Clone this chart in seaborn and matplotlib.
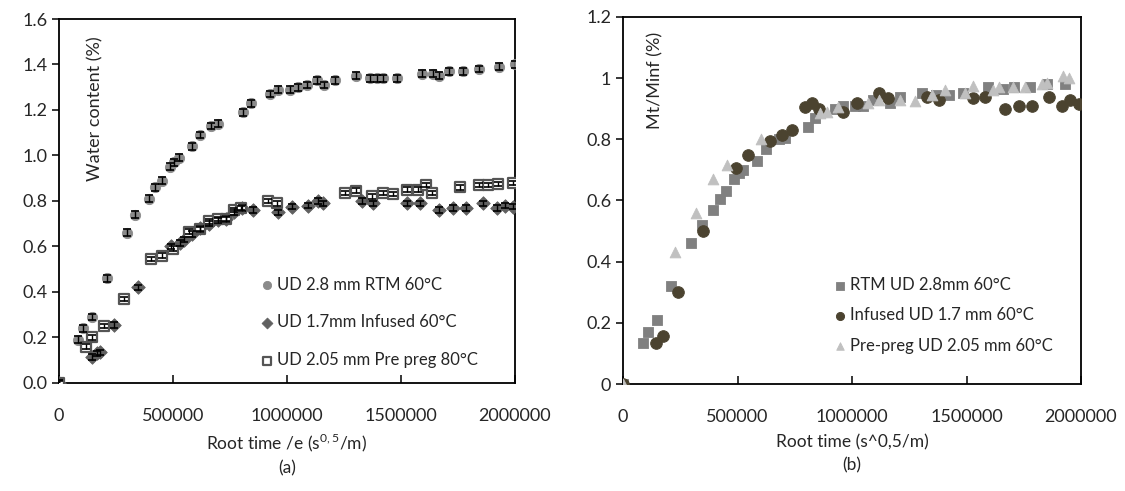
import numpy as np
import pandas as pd
import seaborn as sns
import matplotlib
matplotlib.use("Agg")
import matplotlib.pyplot as plt

# (a) water content, x in root time /e
rtm_x = [0, 83, 105, 145, 210, 298, 333, 395, 421, 452, 487, 504, 526, 583, 618, 667, 697, 807, 842,
         925, 961, 1013, 1048, 1088, 1132, 1162, 1211, 1303, 1364, 1395, 1421, 1482, 1592, 1640, 1667,
         1711, 1772, 1842, 1930, 2000]
rtm_y = [0, 0.19, 0.24, 0.29, 0.46, 0.66, 0.74, 0.81, 0.86, 0.89, 0.95, 0.97, 0.99, 1.04, 1.09, 1.13,
         1.14, 1.19, 1.23, 1.27, 1.29, 1.29, 1.30, 1.31, 1.33, 1.31, 1.33, 1.35, 1.34, 1.34, 1.34, 1.34,
         1.36, 1.36, 1.35, 1.37, 1.37, 1.38, 1.39, 1.40]
inf_x = [0, 145, 167, 180, 241, 346, 491, 531, 548, 583, 618, 658, 697, 732, 770, 805, 851, 961, 1022,
         1092, 1136, 1158, 1329, 1377, 1526, 1583, 1667, 1728, 1785, 1860, 1921, 1956, 1991]
inf_y = [0, 0.115, 0.13, 0.135, 0.255, 0.42, 0.60, 0.615, 0.63, 0.655, 0.68, 0.70, 0.715, 0.72, 0.75,
         0.77, 0.76, 0.75, 0.775, 0.78, 0.80, 0.79, 0.80, 0.79, 0.79, 0.79, 0.76, 0.77, 0.77, 0.79, 0.77,
         0.78, 0.775]
pp_x = [0, 118, 145, 197, 285, 404, 452, 500, 570, 618, 658, 697, 732, 770, 800, 917, 956, 1254, 1303,
        1373, 1421, 1465, 1526, 1575, 1610, 1636, 1759, 1842, 1882, 1925, 1991]
pp_y = [0, 0.16, 0.20, 0.25, 0.37, 0.545, 0.56, 0.59, 0.665, 0.675, 0.71, 0.72, 0.72, 0.76, 0.77, 0.80,
        0.79, 0.835, 0.845, 0.82, 0.835, 0.83, 0.85, 0.85, 0.87, 0.835, 0.86, 0.87, 0.87, 0.875, 0.88]
rtm_err, inf_err, pp_err = 0.015, 0.012, 0.01

# (b) normalised uptake
b_rtm_x = [0, 87, 109, 148, 210, 297, 345, 393, 424, 450, 485, 507, 524, 585, 624, 681, 707, 808, 838,
           926, 961, 1013, 1048, 1092, 1166, 1210, 1306, 1367, 1424, 1485, 1594, 1659, 1707, 1777, 1851, 1930]
b_rtm_y = [0, 0.134, 0.17, 0.21, 0.32, 0.46, 0.52, 0.57, 0.605, 0.63, 0.67, 0.69, 0.70, 0.73, 0.77, 0.80,
           0.805, 0.84, 0.87, 0.90, 0.91, 0.91, 0.91, 0.93, 0.92, 0.94, 0.95, 0.945, 0.945, 0.95, 0.97,
           0.965, 0.97, 0.97, 0.98, 0.98]
b_inf_x = [0, 144, 175, 240, 349, 493, 546, 642, 694, 738, 795, 825, 856, 961, 1022, 1118, 1157, 1328,
           1380, 1528, 1581, 1668, 1729, 1786, 1860, 1917, 1952, 1991]
b_inf_y = [0, 0.134, 0.157, 0.30, 0.50, 0.705, 0.75, 0.795, 0.815, 0.83, 0.906, 0.92, 0.90, 0.89, 0.92,
           0.95, 0.935, 0.94, 0.93, 0.935, 0.94, 0.90, 0.91, 0.91, 0.94, 0.91, 0.93, 0.915]
b_pp_x = [0, 227, 319, 393, 454, 603, 860, 891, 939, 1070, 1118, 1210, 1275, 1349, 1406, 1493, 1528,
          1616, 1642, 1703, 1755, 1830, 1852, 1921, 1948]
b_pp_y = [0, 0.43, 0.56, 0.67, 0.715, 0.80, 0.885, 0.89, 0.905, 0.92, 0.93, 0.93, 0.925, 0.945, 0.96,
          0.95, 0.975, 0.96, 0.97, 0.97, 0.97, 0.98, 0.985, 1.007, 1.0]

x_ticks = [0, 500000, 1000000, 1500000, 2000000]

sns.set_style("ticks")
plt.rcParams["font.family"] = ["Lato", "DejaVu Sans"]
plt.rcParams["mathtext.fontset"] = "custom"
plt.rcParams["mathtext.rm"] = "Lato"
plt.rcParams["font.size"] = 12

fig = plt.figure(figsize=(11.25, 4.91), dpi=100)
ax1 = fig.add_axes([0.0524, 0.22, 0.4053, 0.7413])
ax2 = fig.add_axes([0.5538, 0.2179, 0.4071, 0.7475])

def df(xs, ys):
    return pd.DataFrame({"x": np.array(xs) * 1000, "y": ys})

# ---- panel (a)
d_rtm, d_inf, d_pp = df(rtm_x, rtm_y), df(inf_x, inf_y), df(pp_x, pp_y)
sns.scatterplot(data=d_rtm, x="x", y="y", ax=ax1, marker="o", color="#8a8a8a", edgecolor="#8a8a8a",
                s=55, label="UD 2.8 mm RTM 60°C", zorder=3)
sns.scatterplot(data=d_inf, x="x", y="y", ax=ax1, marker="D", color="#606060", edgecolor="#606060",
                s=48, label="UD 1.7mm Infused 60°C", zorder=3)
sns.scatterplot(data=d_pp, x="x", y="y", ax=ax1, marker="s", color="#555555", facecolor="white",
                edgecolor="#555555", linewidth=1.6, s=50, label="UD 2.05 mm Pre preg 80°C", zorder=3)
for d, e in [(d_rtm, rtm_err), (d_inf, inf_err), (d_pp, pp_err)]:
    ax1.errorbar(d["x"], d["y"], yerr=e, fmt="none", ecolor="black", elinewidth=1, capsize=3,
                 capthick=1.2, zorder=4)

ax1.set_xlim(0, 2000000)
ax1.set_ylim(0, 1.6)
ax1.set_yticks(np.arange(0, 1.61, 0.2))
ax1.set_yticklabels([f"{v:.1f}" for v in np.arange(0, 1.61, 0.2)])
ax1.text(0.079, 0.753, "Water content (%)", transform=ax1.transAxes, rotation=90,
         ha="center", va="center", fontsize=13)
ax1.set_xlabel("Root time /e (s$^{0,5}$/m)\n(a)", fontsize=12.5, labelpad=5.5, linespacing=1.5)
ax1.legend(loc="lower right", bbox_to_anchor=(0.952, 0.0), frameon=False, fontsize=12,
           labelspacing=1.3, handletextpad=0.1, markerscale=0.8, handlelength=1.0)

# ---- panel (b)
sns.scatterplot(data=df(b_rtm_x, b_rtm_y), x="x", y="y", ax=ax2, marker="s", color="#808080",
                edgecolor="#808080", s=55, label="RTM UD 2.8mm 60°C", zorder=3)
sns.scatterplot(data=df(b_inf_x, b_inf_y), x="x", y="y", ax=ax2, marker="o", color="#4b4330",
                edgecolor="#4b4330", s=70, label="Infused UD 1.7 mm 60°C", zorder=3)
sns.scatterplot(data=df(b_pp_x, b_pp_y), x="x", y="y", ax=ax2, marker="^", color="#c0c0c0",
                edgecolor="#c0c0c0", s=60, label="Pre-preg UD 2.05 mm 60°C", zorder=3)

ax2.set_xlim(0, 2000000)
ax2.set_ylim(0, 1.2)
ax2.set_yticks([0, 0.2, 0.4, 0.6, 0.8, 1.0, 1.2])
ax2.set_yticklabels(["0", "0.2", "0.4", "0.6", "0.8", "1", "1.2"])
ax2.text(0.07, 0.826, "Mt/Minf (%)", transform=ax2.transAxes, rotation=90,
         ha="center", va="center", fontsize=13)
ax2.set_xlabel("Root time (s^0,5/m)\n(b)", fontsize=12.5, labelpad=7, linespacing=1.5)
ax2.legend(loc="lower right", bbox_to_anchor=(0.97, 0.042), frameon=False, fontsize=12,
           labelspacing=0.85, handletextpad=0.1, markerscale=0.7, handlelength=1.0)

for ax in (ax1, ax2):
    ax.set_xticks(x_ticks)
    ax.set_xticklabels([str(t) for t in x_ticks])
    ax.set_ylabel("")
    ax.tick_params(axis="x", direction="in", length=6, width=1.3, pad=18, labelsize=13)
    ax.tick_params(axis="y", direction="out", length=5, width=1.3, labelsize=13)
    for sp in ax.spines.values():
        sp.set_visible(True)
        sp.set_color("black")
        sp.set_linewidth(1.3)

fig.savefig("out.png", dpi=100)
